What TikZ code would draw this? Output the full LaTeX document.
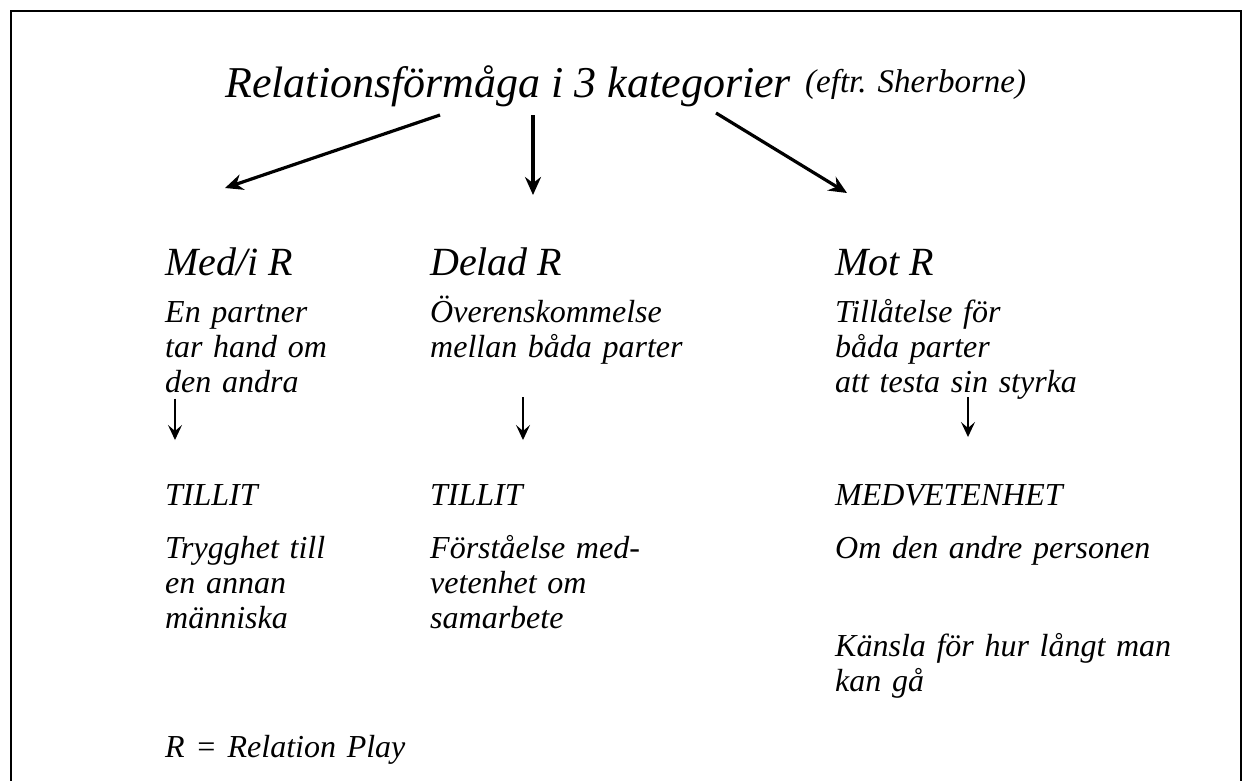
\documentclass[tikz,border=0pt]{standalone}
\usepackage{fontspec}
\setmainfont{Liberation Serif}
\usetikzlibrary{arrows.meta,positioning,calc}
\tikzset{
  maintitle/.style={inner sep=0pt, anchor=base west, font=\itshape\fontsize{44}{50}\selectfont},
  subtitle/.style={inner sep=0pt, anchor=base west, font=\itshape\fontsize{33}{37}\selectfont},
  head/.style={inner sep=0pt, anchor=base west, font=\itshape\fontsize{40}{46}\selectfont},
  txt/.style={inner sep=0pt, anchor=base west, text width=380pt, align=left, font=\itshape\fontsize{32}{35}\selectfont},
  arr/.style={-{Stealth[length=18pt,width=16pt,inset=6pt]}, line width=3.2pt},
  darr/.style={-{Stealth[length=15pt,width=14pt,inset=6pt]}, line width=1.4pt},
  frame/.style={line width=2.8pt},
}
\begin{document}
\begin{tikzpicture}[x=1pt, y=-1pt]
\useasboundingbox (0,0) rectangle (1244,780);
\draw[frame] (11,790) -- (11,11) -- (1241,11) -- (1241,790);

% title
\node[maintitle] (title) at (225,97) {Relationsförmåga i 3 kategorier};
\node[subtitle] (eftr) at (805,92) {(eftr. Sherborne)};

% the three categories
\node[head] (medi)  at (165,275) {Med/i R};
\node[head] (delad) at (430,275) {Delad R};
\node[head] (mot)   at (835,275) {Mot R};
\draw[arr] ($(title.base west)+(215,18)$) -- ($(medi.base west)+(60,-87)$);
\draw[arr] ($(title.base west)+(308,18)$) -- ($(delad.base west)+(103,-80)$);
\draw[arr] ($(title.base west)+(491,16)$) -- ($(mot.base west)+(12,-82)$);

\node[txt] (b1) at (165,322) {En partner\\tar hand om\\den andra};
\node[txt] (b2) at (430,322) {Överenskommelse\\mellan båda parter};
\node[txt] (b3) at (835,322) {Tillåtelse för\\båda parter\\att testa sin styrka};

% results
\node[txt] (t1) at (165,505) {TILLIT};
\node[txt] (t2) at (430,505) {TILLIT};
\node[txt] (t3) at (835,505) {MEDVETENHET};
\draw[darr] ($(b1.south west)+(10,6)$) -- ($(t1.base west)+(10,-65)$);
\draw[darr] ($(b2.south west)+(93,33)$) -- ($(t2.base west)+(93,-65)$);
\draw[darr] ($(b3.south west)+(133,-2)$) -- ($(t3.base west)+(133,-68)$);

\node[txt] (c1) at (165,558) {Trygghet till\\en annan\\människa};
\node[txt] (c2) at (430,558) {Förståelse med-\\vetenhet om\\samarbete};
\node[txt] (c3) at (835,558) {Om den andre personen};
\node[txt] (d3) at (835,656) {Känsla för hur långt man\\kan gå};

\node[txt] (note) at (165,757) {R = Relation Play};
\end{tikzpicture}
\end{document}
